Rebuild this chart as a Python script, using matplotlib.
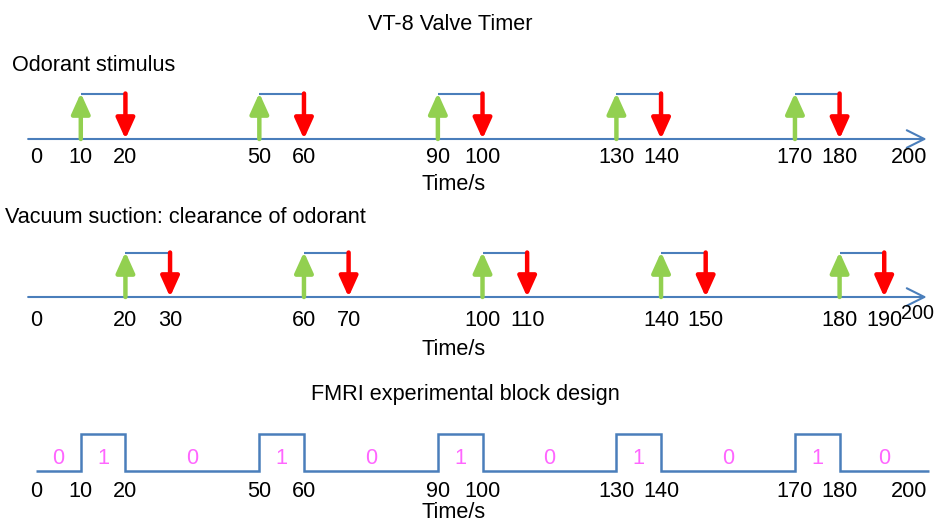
import matplotlib
matplotlib.use("Agg")
import matplotlib.pyplot as plt

plt.rcParams['font.family'] = ['Liberation Sans', 'DejaVu Sans']

# ---------------- data ----------------
odor_on = [10, 50, 90, 130, 170]
odor_off = [20, 60, 100, 140, 180]
odor_ticks = [0, 10, 20, 50, 60, 90, 100, 130, 140, 170, 180]

vac_on = [20, 60, 100, 140, 180]
vac_off = [30, 70, 110, 150, 190]
vac_ticks = [0, 20, 30, 60, 70, 100, 110, 140, 150, 180, 190]

block_edges = [0, 10, 20, 50, 60, 90, 100, 130, 140, 170, 180, 200]
block_states = [0, 1, 0, 1, 0, 1, 0, 1, 0, 1, 0]
block_ticks = [0, 10, 20, 50, 60, 90, 100, 130, 140, 170, 180]

t_end = 200

title = "VT-8 Valve Timer"
panel_titles = ["Odorant stimulus", "Vacuum suction: clearance of odorant",
                "FMRI experimental block design"]
xlabel = "Time/s"

# ---------------- style ----------------
BLUE = "#4A7EBB"
GREEN = "#92D050"
RED = "#FF0000"
PINK = "#FF66FF"
FS = 15.6

fig = plt.figure(figsize=(9.36, 5.24), dpi=100)
ax = fig.add_axes([0, 0, 1, 1])
ax.set_xlim(-8.1, 201.6)
ax.set_ylim(524, 0)  # y in pixel-like units (top to bottom)
ax.axis('off')


def axis_arrow(y, x0):
    ax.annotate("", xy=(199.5, y), xytext=(x0, y),
                arrowprops=dict(arrowstyle="->,head_length=0.9,head_width=0.45",
                                color=BLUE, lw=1.5, shrinkA=0, shrinkB=0,
                                mutation_scale=14))


def end_label(y, dx_px, ha='center', fs=FS):
    ax.annotate(str(t_end), xy=(t_end, y), xytext=(dx_px * 0.72, 0),
                textcoords='offset points', ha=ha, va='baseline',
                fontsize=fs, annotation_clip=False)


ARROW = "-|>,head_length=0.62,head_width=0.28"


def valve_panel(on, off, ticks, y_axis, y_top, y_lab, y_time):
    axis_arrow(y_axis, -1.8)
    for a, b in zip(on, off):
        ax.plot([a, b], [y_top, y_top], color=BLUE, lw=1.5, solid_capstyle='butt')
        ax.annotate("", xy=(a, y_top - 0.5), xytext=(a, y_axis),
                    arrowprops=dict(arrowstyle=ARROW,
                                    color=GREEN, lw=3.2, shrinkA=0, shrinkB=0,
                                    mutation_scale=20))
        ax.annotate("", xy=(b, y_axis), xytext=(b, y_top),
                    arrowprops=dict(arrowstyle=ARROW,
                                    color=RED, lw=3.2, shrinkA=0, shrinkB=0,
                                    mutation_scale=20))
    for t in ticks:
        ax.text(t, y_lab, str(t), ha='center', va='baseline', fontsize=FS)
    ax.text(93.5, y_time, xlabel, ha='center', va='baseline', fontsize=FS)


fig.text(450 / 936, 1 - 30 / 524, title, ha='center', va='baseline', fontsize=FS)

# Panel 1
fig.text(12 / 936, 1 - 71 / 524, panel_titles[0], ha='left', va='baseline', fontsize=FS)
valve_panel(odor_on, odor_off, odor_ticks, 139, 93.5, 163, 190)
end_label(163, -20)

# Panel 2
fig.text(5 / 936, 1 - 223 / 524, panel_titles[1], ha='left', va='baseline', fontsize=FS)
valve_panel(vac_on, vac_off, vac_ticks, 297, 252.5, 326, 355)
end_label(319, 5, ha='right', fs=14.2)

# Panel 3
fig.text(465 / 936, 1 - 400 / 524, panel_titles[2], ha='center', va='baseline', fontsize=FS)
y_low, y_high = 471, 434
ys = [y_high if s else y_low for s in block_states]
ax.stairs(ys, block_edges, baseline=None, color=BLUE, lw=1.8)
for i, s in enumerate(block_states):
    c = 0.5 * (block_edges[i] + block_edges[i + 1])
    ax.text(c, 464, str(s), ha='center', va='baseline', fontsize=FS, color=PINK)
for t in block_ticks:
    ax.text(t, 497, str(t), ha='center', va='baseline', fontsize=FS)
end_label(497, -20)
ax.text(93.5, 518, xlabel, ha='center', va='baseline', fontsize=FS)

fig.savefig("out.png", dpi=100)
